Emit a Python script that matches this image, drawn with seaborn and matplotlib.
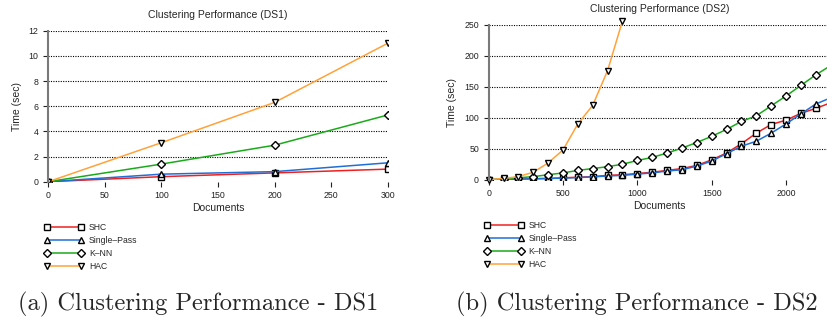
import matplotlib
matplotlib.use("Agg")
import matplotlib.pyplot as plt
import seaborn as sns
import pandas as pd

# DS1 data
ds1_docs = [0, 100, 200, 300]
ds1_shc = [0.0, 0.4, 0.7, 1.0]
ds1_single = [0.0, 0.6, 0.8, 1.5]
ds1_knn = [0.0, 1.4, 2.9, 5.3]
ds1_hac = [0.0, 3.1, 6.3, 11.0]

# DS2 data
ds2_docs = [0, 100, 200, 300, 400, 500, 600, 700, 800, 900, 1000, 1100,
            1200, 1300, 1400, 1500, 1600, 1700, 1800, 1900, 2000, 2100, 2200, 2300]
ds2_shc = [0, 0.5, 1, 1.5, 2, 3, 4, 5, 7, 8, 10, 12,
           15, 18, 23, 32, 43, 58, 75, 89, 96, 107, 115, 124]
ds2_single = [0, 0.5, 1, 1.5, 2, 2.5, 3.5, 4.5, 6, 7, 9, 11,
              14, 16, 22, 30, 42, 54, 62, 75, 90, 106, 122, 132]
ds2_knn = [0, 1, 3, 5, 8, 11, 15, 18, 21, 25, 31, 36,
           43, 51, 60, 70, 81, 94, 103, 119, 135, 152, 169, 184]
ds2_hac_docs = [0, 100, 200, 300, 400, 500, 600, 700, 800, 900]
ds2_hac = [0, 2, 5, 12, 27, 48, 90, 120, 176, 256]

names = ["SHC", "Single\u2013Pass", "K\u2013NN", "HAC"]
colors = ["#f02020", "#1f6fd6", "#1aaa1a", "#ffa23a"]
markers = ["s", "^", "D", "v"]
msizes = [4.5, 4.8, 4.0, 4.8]

sns.set_style("white")
plt.rcParams["font.family"] = ["Liberation Sans", "DejaVu Sans"]

fig = plt.figure(figsize=(8.27, 3.22), dpi=100)
ax1 = fig.add_axes([0.0584, 0.4357, 0.4104, 0.469])
ax2 = fig.add_axes([0.5909, 0.4419, 0.4134, 0.4814])


def draw(ax, series, xlim, yticks, title):
    for (xs, ys), name, c, m, ms in zip(series, names, colors, markers, msizes):
        df = pd.DataFrame({"Documents": xs, "Time": ys})
        sns.lineplot(data=df, x="Documents", y="Time", ax=ax, color=c, lw=1.1,
                     marker=m, markersize=ms, markerfacecolor="white",
                     markeredgecolor="black", markeredgewidth=1.0,
                     label=name)
    for t in yticks[1:]:
        ax.axhline(t, color="black", lw=0.8, ls=(0, (1, 1.2)), zorder=0.5)
    ax.set_xlim(*xlim)
    ax.set_ylim(yticks[0], yticks[-1])
    ax.set_yticks(yticks)
    ax.set_title(title, fontsize=7.5, pad=9)
    ax.set_xlabel("Documents", fontsize=7.5, labelpad=2)
    ax.set_ylabel("Time (sec)", fontsize=7.5, labelpad=5)
    ax.tick_params(axis="both", labelsize=6.3, length=3.5, width=0.8,
                   direction="out", pad=3.5, colors="#222222")
    ax.tick_params(left=True, bottom=True)
    for s in ["top", "right", "bottom"]:
        ax.spines[s].set_visible(False)
    ax.spines["left"].set_color("#7a7a7a")
    ax.spines["left"].set_linewidth(1.5)
    ax.get_legend().remove()


draw(ax1, [(ds1_docs, ds1_shc), (ds1_docs, ds1_single), (ds1_docs, ds1_knn), (ds1_docs, ds1_hac)],
     (0, 300), [0, 2, 4, 6, 8, 10, 12], "Clustering Performance (DS1)")
draw(ax2, [(ds2_docs, ds2_shc), (ds2_docs, ds2_single), (ds2_docs, ds2_knn), (ds2_hac_docs, ds2_hac)],
     (0, 2300), [0, 50, 100, 150, 200, 250], "Clustering Performance (DS2)")
ax2.set_xticks([0, 500, 1000, 1500, 2000])
ax2.lines[3].set_clip_on(False)

for ax, x0, y0 in [(ax1, 0.0532, 0.308), (ax2, 0.5852, 0.314)]:
    h, l = ax.get_legend_handles_labels()
    ax.legend(h, l, loc="upper left", bbox_to_anchor=(x0, y0),
              bbox_transform=fig.transFigure, frameon=False, numpoints=2,
              fontsize=6.2, handlelength=4.6, handletextpad=0.6,
              labelspacing=0.46, borderpad=0, borderaxespad=0)

fig.text(0.239, 0.053, "(a) Clustering Performance - DS1", family="cmr10",
         fontsize=17.6, ha="center", va="center")
fig.text(0.770, 0.053, "(b) Clustering Performance - DS2", family="cmr10",
         fontsize=17.6, ha="center", va="center")

fig.savefig("out.png", dpi=100)
